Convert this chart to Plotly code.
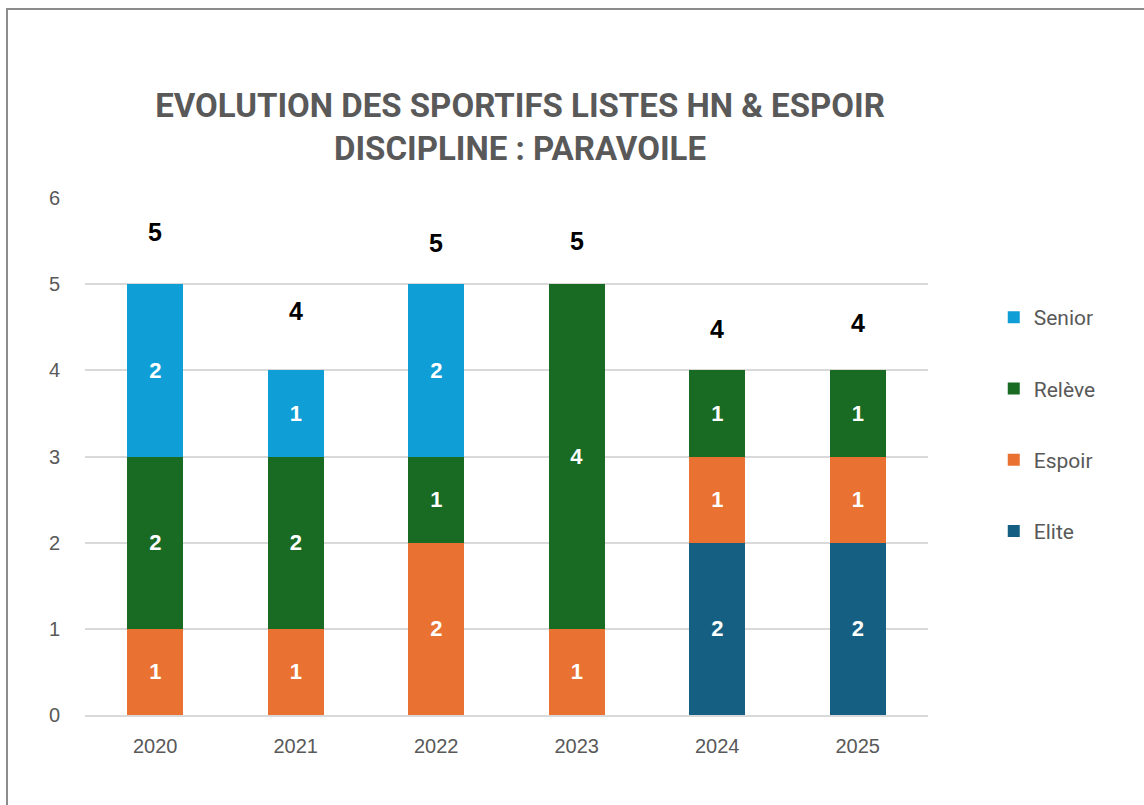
import plotly.graph_objects as go

# Data
years = ["2020", "2021", "2022", "2023", "2024", "2025"]
elite = [0, 0, 0, 0, 2, 2]
espoir = [1, 1, 2, 1, 1, 1]
releve = [2, 2, 1, 4, 1, 1]
senior = [2, 1, 2, 0, 0, 0]

series_names = ["Elite", "Espoir", "Relève", "Senior"]
series_values = [elite, espoir, releve, senior]
series_colors = ["#156082", "#E97132", "#196B24", "#0F9ED5"]

totals = [sum(v) for v in zip(*series_values)]
# vertical lift (px) of each total label above its stack
total_label_lift = [52, 59, 41, 43, 41, 47]

fig = go.Figure()
n_series = len(series_names)
for k, (name, vals, col) in enumerate(zip(series_names, series_values, series_colors)):
    fig.add_trace(go.Bar(
        x=years, y=vals, name=name, legendgroup=name,
        legendrank=n_series - k,
        marker=dict(color=col, line=dict(width=0)),
        text=[str(v) if v else "" for v in vals],
        textposition="inside", insidetextanchor="middle",
        textfont=dict(family="Liberation Sans, Arial", size=22, color="white", weight="bold"),
        cliponaxis=False,
    ))

# totals above each stack (x given as category index)
for i, (tot, lift) in enumerate(zip(totals, total_label_lift)):
    fig.add_annotation(
        x=i, y=tot, xref="x", yref="y", text=f"<b>{tot}</b>", showarrow=False,
        yshift=lift, font=dict(family="Liberation Sans, Arial", size=25, color="black"),
    )

# outer chart frame
fig.add_shape(
    type="rect", xref="paper", yref="paper",
    x0=(7 - 85) / 843, x1=(1160 - 85) / 843,
    y0=(715 - 830) / 517, y1=(715 - 9) / 517,
    line=dict(color="#8c8c8c", width=2), fillcolor="rgba(0,0,0,0)", layer="below",
)

fig.update_layout(
    width=1144, height=805,
    margin=dict(l=85, r=216, t=198, b=90),
    paper_bgcolor="white", plot_bgcolor="white",
    barmode="stack", bargap=0.6,
    title=dict(
        text="<b>EVOLUTION DES SPORTIFS LISTES HN &amp; ESPOIR<br>DISCIPLINE : PARAVOILE</b>",
        x=520 / 1144, xanchor="center", y=1 - 117 / 805, yanchor="middle",
        font=dict(family="Roboto", size=33, color="#595959"),
    ),
    legend=dict(
        x=1.078, xanchor="left", y=(715 - 297) / 517, yanchor="top",
        traceorder="grouped", tracegroupgap=41,
        font=dict(family="Roboto", size=21, color="#595959"),
        itemwidth=30,
    ),
    xaxis=dict(
        type="category", range=[-0.5, len(years) - 0.5],
        showgrid=False, showline=True, linecolor="#d9d9d9", linewidth=2,
        ticks="", tickfont=dict(family="Liberation Sans, Arial", size=20, color="#595959"),
        ticklabelstandoff=12,
    ),
    yaxis=dict(
        range=[0, 6], dtick=1, showgrid=True, gridcolor="#d9d9d9", gridwidth=2,
        zeroline=False, showline=False, ticks="",
        tickfont=dict(family="Liberation Sans, Arial", size=20, color="#595959"),
        ticklabelstandoff=24,
    ),
    showlegend=True,
)

fig.write_html("out.html")
